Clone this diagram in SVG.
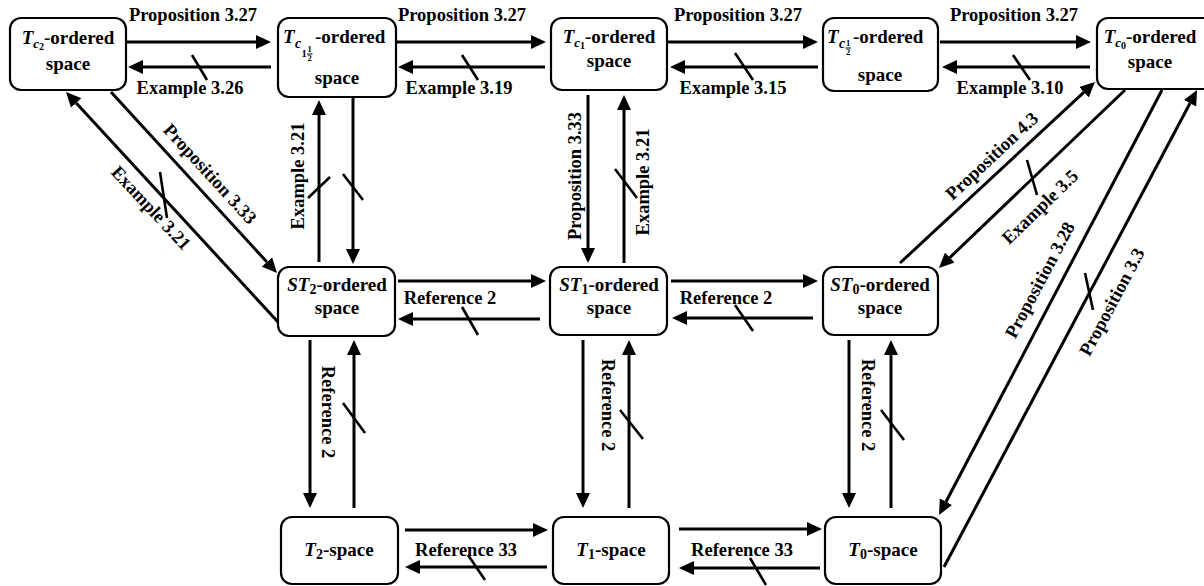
<svg xmlns="http://www.w3.org/2000/svg" width="1204" height="586" viewBox="0 0 1204 586">
<style>
.box{fill:#fff;stroke:#000;stroke-width:2.2}
.ln{fill:none;stroke:#000;stroke-width:3;marker-end:url(#ah)}
.sl{stroke:#000;stroke-width:2.6}
.bar{stroke:#000;stroke-width:1}
text{font-family:"Liberation Serif","Times New Roman",serif;font-weight:bold;fill:#000}
.lb{font-size:18.5px;text-anchor:middle}
.nd{font-size:19px}
.c{text-anchor:middle}
.it{font-style:italic}
.s14{font-size:14px}
.s10{font-size:10.5px}
.s8{font-size:8.5px}
</style>
<defs>
<marker id="ah" markerUnits="userSpaceOnUse" markerWidth="15" markerHeight="14" refX="0" refY="7" orient="auto">
<path d="M0,0 L15,7 L0,14 Z" fill="#000"/>
</marker>
</defs>
<rect width="1204" height="586" fill="#fff"/>

<g id="connectors">
<path class="ln" d="M126,42 H256"/>
<path class="ln" d="M271,67 H143"/>
<path class="ln" d="M397,42 H531"/>
<path class="ln" d="M545,67 H413"/>
<path class="ln" d="M668,42 H803"/>
<path class="ln" d="M818,67 H685"/>
<path class="ln" d="M940,42 H1076"/>
<path class="ln" d="M1090,67 H957"/>
<path class="ln" d="M398,281 H531"/>
<path class="ln" d="M540,319 H413"/>
<path class="ln" d="M671,281 H803"/>
<path class="ln" d="M813,318 H687"/>
<path class="ln" d="M405,530 H533"/>
<path class="ln" d="M547,567 H420"/>
<path class="ln" d="M679,529 H807"/>
<path class="ln" d="M820,568 H694"/>
<path class="ln" d="M319,262 V115"/>
<path class="ln" d="M353,97 V249"/>
<path class="ln" d="M588,95 V248"/>
<path class="ln" d="M624,263 V110"/>
<path class="ln" d="M310,340 V493"/>
<path class="ln" d="M354,508 V355"/>
<path class="ln" d="M583,340 V493"/>
<path class="ln" d="M629,508 V355"/>
<path class="ln" d="M849,340 V493"/>
<path class="ln" d="M891,508 V355"/>
<path class="ln" d="M278,322 L76.2,103"/>
<path class="ln" d="M111,92 L266.9,262"/>
<path class="ln" d="M900,263 L1084,92.2"/>
<path class="ln" d="M1125,90 L949.8,257.6"/>
<path class="ln" d="M1162,90 L946,501.7"/>
<path class="ln" d="M944,567 L1190,103.3"/>
<g id="negations">
<line class="sl" x1="192" y1="55" x2="207" y2="80"/>
<line class="sl" x1="462" y1="55" x2="478" y2="80"/>
<line class="sl" x1="735" y1="53" x2="753" y2="80"/>
<line class="sl" x1="1013" y1="55" x2="1030" y2="80"/>
<line class="sl" x1="160" y1="172" x2="167" y2="218"/>
<line class="sl" x1="308" y1="198" x2="330" y2="177"/>
<line class="sl" x1="343" y1="174" x2="363" y2="200"/>
<line class="sl" x1="615" y1="169" x2="637" y2="198"/>
<line class="sl" x1="462" y1="307" x2="478" y2="335"/>
<line class="sl" x1="735" y1="305" x2="753" y2="331"/>
<line class="sl" x1="1027" y1="160" x2="1037" y2="195"/>
<line class="sl" x1="1085" y1="273" x2="1093" y2="310"/>
<line class="sl" x1="343" y1="403" x2="365" y2="433"/>
<line class="sl" x1="620" y1="410" x2="643" y2="439"/>
<line class="sl" x1="881" y1="410" x2="904" y2="440"/>
<line class="sl" x1="468" y1="555" x2="485" y2="580"/>
<line class="sl" x1="750" y1="558" x2="766" y2="585"/>
</g>
<g id="labels">
<text class="lb" x="193" y="21">Proposition 3.27</text>
<text class="lb" x="462" y="21">Proposition 3.27</text>
<text class="lb" x="738" y="21">Proposition 3.27</text>
<text class="lb" x="1014" y="21">Proposition 3.27</text>
<text class="lb" x="190" y="94">Example 3.26</text>
<text class="lb" x="459" y="94">Example 3.19</text>
<text class="lb" x="733" y="94">Example 3.15</text>
<text class="lb" x="1010" y="94">Example 3.10</text>
<text class="lb" x="450" y="304">Reference 2</text>
<text class="lb" x="726" y="304">Reference 2</text>
<text class="lb" x="466" y="556">Reference 33</text>
<text class="lb" x="742" y="556">Reference 33</text>
<text class="lb" transform="translate(151,208) rotate(47)" y="6">Example 3.21</text>
<text class="lb" transform="translate(210,174) rotate(47.5)" y="6">Proposition 3.33</text>
<text class="lb" transform="translate(298,176) rotate(-90)" y="6">Example 3.21</text>
<text class="lb" transform="translate(575,176) rotate(-90)" y="6">Proposition 3.33</text>
<text class="lb" transform="translate(643,182) rotate(-90)" y="6">Example 3.21</text>
<text class="lb" transform="translate(992,156) rotate(-43)" y="6">Proposition 4.3</text>
<text class="lb" transform="translate(1040,207) rotate(-44)" y="6">Example 3.5</text>
<text class="lb" transform="translate(1040,280) rotate(-62)" y="6">Proposition 3.28</text>
<text class="lb" transform="translate(1112,302) rotate(-62)" y="6">Proposition 3.3</text>
<text class="lb" transform="translate(328,412) rotate(90)" y="6">Reference 2</text>
<text class="lb" transform="translate(608,405) rotate(90)" y="6">Reference 2</text>
<text class="lb" transform="translate(868,405) rotate(90)" y="6">Reference 2</text>
</g>
</g>

<g id="Tc2">
<rect class="box" x="10" y="18" width="116" height="72" rx="11"/>
<text class="nd c" x="68" y="44"><tspan class="it" style="font-size:19px">T</tspan><tspan class="it" style="font-size:13px" dy="4">c</tspan><tspan style="font-size:10px" dy="2">2</tspan><tspan dy="-6">-ordered</tspan></text>
<text class="nd c" x="68" y="70">space</text>
</g>
<g id="Tc1half1">
<rect class="box" x="278" y="18" width="118" height="79" rx="11"/>
<text class="nd it" x="283" y="43">T</text>
<text class="it s14" x="295" y="48">c</text>
<text class="s10" x="301.5" y="57">1</text>
<text class="s8" x="307.5" y="52">1</text>
<line class="bar" x1="307" y1="54" x2="312.5" y2="54"/>
<text class="s8" x="307.5" y="61">2</text>
<text class="nd" x="315" y="43">-ordered</text>
<text class="nd c" x="337" y="84">space</text>
</g>
<g id="Tc1">
<rect class="box" x="551" y="18" width="116" height="72" rx="11"/>
<text class="nd c" x="609" y="43"><tspan class="it">T</tspan><tspan class="it" style="font-size:13px" dy="4">c</tspan><tspan style="font-size:10px" dy="2">1</tspan><tspan dy="-6">-ordered</tspan></text>
<text class="nd c" x="609" y="67">space</text>
</g>
<g id="Tchalf">
<rect class="box" x="823" y="18" width="115" height="73" rx="11"/>
<text class="nd it" x="827" y="43">T</text>
<text class="it s14" x="839" y="48">c</text>
<text class="s8" x="846" y="46">1</text>
<line class="bar" x1="845.5" y1="48" x2="851" y2="48"/>
<text class="s8" x="846" y="55">2</text>
<text class="nd" x="853" y="43">-ordered</text>
<text class="nd c" x="880" y="81">space</text>
</g>
<g id="Tc0">
<rect class="box" x="1097" y="18" width="118" height="71" rx="11"/>
<text class="nd c" x="1150" y="43"><tspan class="it">T</tspan><tspan class="it" style="font-size:13px" dy="4">c</tspan><tspan style="font-size:10px" dy="2">0</tspan><tspan dy="-6">-ordered</tspan></text>
<text class="nd c" x="1150" y="68">space</text>
</g>
<g id="ST2">
<rect class="box" x="278" y="267" width="117" height="69" rx="11"/>
<text class="nd c" x="337" y="291"><tspan class="it">ST</tspan><tspan style="font-size:14px" dy="3">2</tspan><tspan dy="-3">-ordered</tspan></text>
<text class="nd c" x="337" y="314">space</text>
</g>
<g id="ST1">
<rect class="box" x="550" y="267" width="117" height="68" rx="11"/>
<text class="nd c" x="609" y="291"><tspan class="it">ST</tspan><tspan style="font-size:14px" dy="3">1</tspan><tspan dy="-3">-ordered</tspan></text>
<text class="nd c" x="609" y="314">space</text>
</g>
<g id="ST0">
<rect class="box" x="823" y="267" width="115" height="68" rx="11"/>
<text class="nd c" x="880" y="291"><tspan class="it">ST</tspan><tspan style="font-size:14px" dy="3">0</tspan><tspan dy="-3">-ordered</tspan></text>
<text class="nd c" x="880" y="314">space</text>
</g>
<g id="T2">
<rect class="box" x="281" y="517" width="117" height="67" rx="11"/>
<text class="nd c" x="339" y="556"><tspan class="it">T</tspan><tspan style="font-size:14px" dy="3">2</tspan><tspan dy="-3">-space</tspan></text>
</g>
<g id="T1">
<rect class="box" x="553" y="517" width="116" height="67" rx="11"/>
<text class="nd c" x="611" y="556"><tspan class="it">T</tspan><tspan style="font-size:14px" dy="3">1</tspan><tspan dy="-3">-space</tspan></text>
</g>
<g id="T0">
<rect class="box" x="825" y="517" width="116" height="67" rx="11"/>
<text class="nd c" x="883" y="556"><tspan class="it">T</tspan><tspan style="font-size:14px" dy="3">0</tspan><tspan dy="-3">-space</tspan></text>
</g>
</svg>
